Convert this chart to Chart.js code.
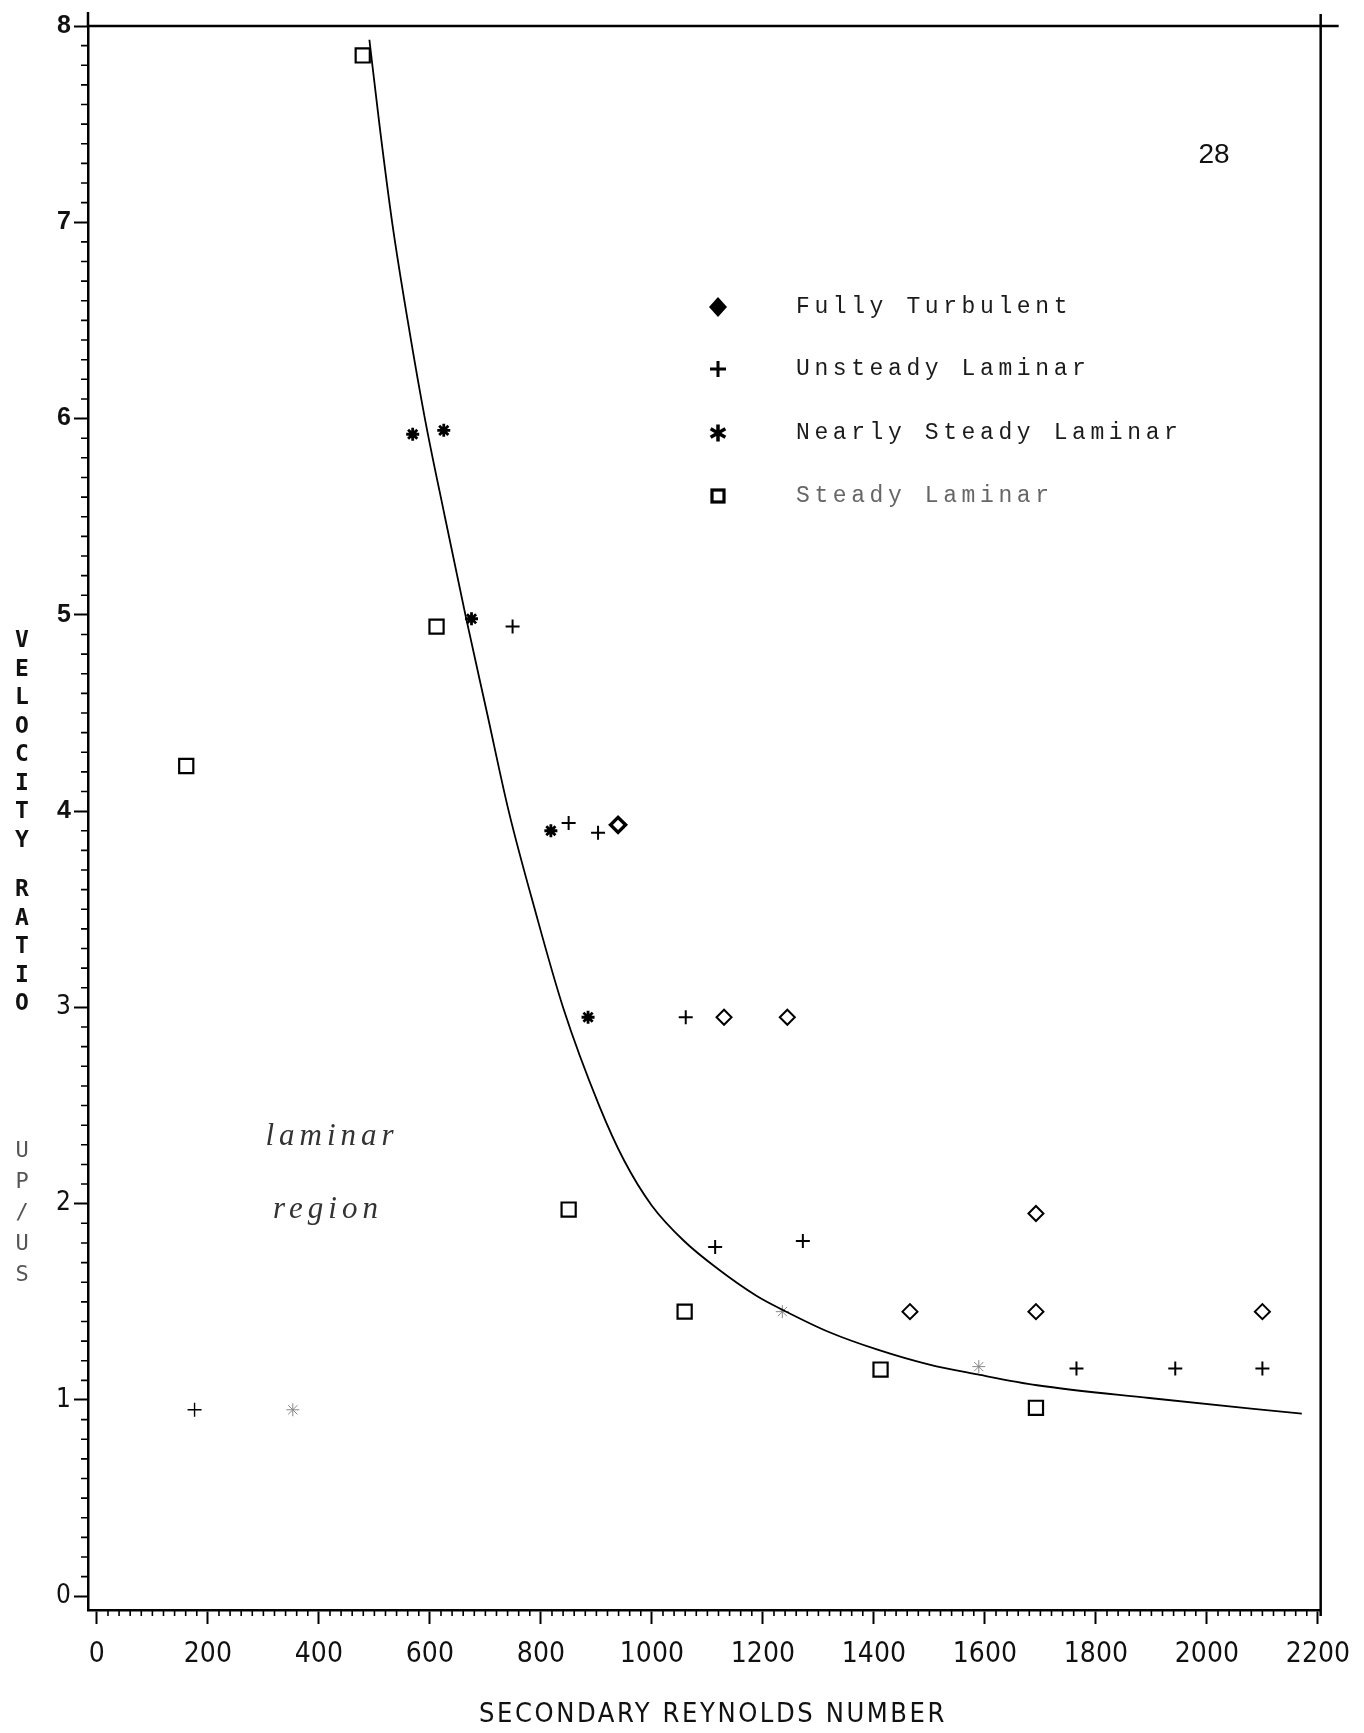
<!DOCTYPE html>
<html>
<head>
<meta charset="utf-8">
<title>Velocity ratio vs secondary Reynolds number</title>
<script src="https://cdn.jsdelivr.net/npm/chart.js@4.4.0/dist/chart.umd.min.js"></script>
<style>
  body { margin:0; background:#fff; }
  #wrap { position:relative; width:1364px; height:1733px; overflow:hidden; }
  #chart { position:absolute; left:0; top:0; }
  .txt { position:absolute; white-space:nowrap; transform:translate(-50%,-50%); color:#111; }
  .leg { position:absolute; white-space:nowrap; transform:translateY(-50%);
         font-family:'Liberation Mono','DejaVu Sans Mono',monospace; font-size:23px;
         letter-spacing:4.6px; color:#1b1b1b; }
  .stack { position:absolute; transform:translateX(-50%); text-align:center;
           font-family:'DejaVu Sans Mono',monospace; font-weight:bold; font-size:23px; line-height:28.5px; color:#111; }
  .italic { font-family:'Liberation Serif','DejaVu Serif',serif; font-style:italic; font-size:31px;
            letter-spacing:5px; color:#333; }
</style>
</head>
<body>
<div id="wrap">
  <canvas id="chart" width="1364" height="1733"></canvas>

  <div class="leg" style="left:796px;top:307px;">Fully Turbulent</div>
  <div class="leg" style="left:796px;top:369px;">Unsteady Laminar</div>
  <div class="leg" style="left:796px;top:433px;">Nearly Steady Laminar</div>
  <div class="leg" style="left:796px;top:496px;color:#666;">Steady Laminar</div>

  <div class="txt" style="left:1214px;top:154px;font:28px 'Liberation Sans',Arial,sans-serif;">28</div>
  <div class="txt italic" style="left:332px;top:1135px;">laminar</div>
  <div class="txt italic" style="left:328px;top:1208px;">region</div>

  <div class="stack" style="left:22px;top:625px;">V<br>E<br>L<br>O<br>C<br>I<br>T<br>Y</div>
  <div class="stack" style="left:22px;top:874px;">R<br>A<br>T<br>I<br>O</div>
  <div class="stack" style="left:22px;top:1134px;font-weight:normal;font-size:22px;line-height:31px;color:#555;">U<br>P<br>/<br>U<br>S</div>

  <div class="txt" style="left:713px;top:1712px;font:27px 'DejaVu Sans Condensed','Liberation Sans Narrow','DejaVu Sans',sans-serif;letter-spacing:2.6px;">SECONDARY REYNOLDS NUMBER</div>
</div>

<script>
// Axis ticks
const xTicks = [0, 200, 400, 600, 800, 1000, 1200, 1400, 1600, 1800, 2000, 2200];
const yTicks = [0, 1, 2, 3, 4, 5, 6, 7, 8];

// Fully Turbulent (diamonds)
const turbX = [939, 1130, 1244, 1692, 1465, 1692, 2100];
const turbY = [3.93, 2.95, 2.95, 1.95, 1.45, 1.45, 1.45];

// Unsteady Laminar (plus)
const unsteadyX = [749, 850, 903, 1061, 1114, 1272, 1765, 1943, 2100, 176];
const unsteadyY = [4.94, 3.94, 3.89, 2.95, 1.78, 1.81, 1.16, 1.16, 1.16, 0.95];

// Nearly Steady Laminar (stars)
const nearlyX = [569, 625, 675, 818, 885, 1235, 1589, 353];
const nearlyY = [5.92, 5.94, 4.98, 3.90, 2.95, 1.45, 1.17, 0.95];

// Steady Laminar (squares)
const steadyX = [479, 612, 161, 850, 1059, 1412, 1692];
const steadyY = [7.85, 4.94, 4.23, 1.97, 1.45, 1.155, 0.96];

// transition curve
const curveX = [491, 509, 532, 560, 591, 627, 664, 703, 742, 789, 840, 905, 950, 1000,
  1058, 1118, 1189, 1235, 1320, 1408, 1500, 1587, 1694, 1896, 2171];
const curveY = [7.93, 7.5, 7.0, 6.5, 6.0, 5.5, 5.0, 4.5, 4.0, 3.5, 3.0, 2.5, 2.22, 1.99,
  1.81, 1.67, 1.53, 1.46, 1.345, 1.255, 1.18, 1.13, 1.075, 1.01, 0.93];

const pts = (xs, ys) => xs.map((x, i) => ({ x: x, y: ys[i] }));

// faint marks in the scan
const faintStars = [5, 6, 7];
const boldDiamond = [0];
const thinPlus = [9];

const condensed = "'DejaVu Sans Condensed','Liberation Sans Narrow','DejaVu Sans',sans-serif";

// minor ticks, frame lines and legend markers
const framePlugin = {
  id: 'frame',
  afterDraw(chart) {
    const ctx = chart.ctx;
    const a = chart.chartArea;
    const xs = chart.scales.x, ys = chart.scales.y;
    ctx.save();
    ctx.strokeStyle = '#000';
    ctx.lineCap = 'butt';

    // top and right lines
    ctx.lineWidth = 2.5;
    ctx.beginPath();
    ctx.moveTo(a.left, a.top); ctx.lineTo(a.right + 18, a.top);
    ctx.moveTo(a.right, a.top - 12); ctx.lineTo(a.right, a.bottom + 6);
    ctx.moveTo(a.left, a.top - 14); ctx.lineTo(a.left, a.top);
    ctx.stroke();

    // minor ticks
    ctx.lineWidth = 1.6;
    ctx.beginPath();
    for (let v = 20; v < 2200; v += 20) {
      if (v % 200 === 0) continue;
      const px = xs.getPixelForValue(v);
      ctx.moveTo(px, a.bottom); ctx.lineTo(px, a.bottom + 6);
    }
    for (let k = 1; k < 80; k++) {
      if (k % 10 === 0) continue;
      const py = ys.getPixelForValue(k / 10);
      ctx.moveTo(a.left - 7, py); ctx.lineTo(a.left, py);
    }
    ctx.stroke();

    // legend markers
    const lx = a.left + 630;
    const rows = [a.top + 281, a.top + 343, a.top + 407, a.top + 470];
    ctx.fillStyle = '#000';
    // filled diamond
    ctx.beginPath();
    ctx.moveTo(lx, rows[0] - 10); ctx.lineTo(lx + 9, rows[0]);
    ctx.lineTo(lx, rows[0] + 10); ctx.lineTo(lx - 9, rows[0]);
    ctx.closePath(); ctx.fill();
    // plus
    ctx.lineWidth = 3;
    ctx.beginPath();
    ctx.moveTo(lx - 8, rows[1]); ctx.lineTo(lx + 8, rows[1]);
    ctx.moveTo(lx, rows[1] - 8); ctx.lineTo(lx, rows[1] + 8);
    ctx.stroke();
    // star
    ctx.lineWidth = 3.5;
    ctx.beginPath();
    for (let k = 0; k < 3; k++) {
      const ang = Math.PI / 2 + k * Math.PI / 3;
      ctx.moveTo(lx - 8.5 * Math.cos(ang), rows[2] - 8.5 * Math.sin(ang));
      ctx.lineTo(lx + 8.5 * Math.cos(ang), rows[2] + 8.5 * Math.sin(ang));
    }
    ctx.stroke();
    // square
    ctx.lineWidth = 3.2;
    ctx.strokeRect(lx - 6, rows[3] - 6, 12, 12);
    ctx.restore();
  }
};

new Chart(document.getElementById('chart'), {
  type: 'scatter',
  data: {
    datasets: [
      {
        label: 'curve',
        data: pts(curveX, curveY),
        showLine: true,
        borderColor: '#000',
        borderWidth: 1.8,
        pointRadius: 0,
        cubicInterpolationMode: 'monotone',
        fill: false
      },
      {
        label: 'Fully Turbulent',
        data: pts(turbX, turbY),
        pointStyle: 'rectRot',
        pointRadius: 7.5,
        pointBackgroundColor: '#fff',
        pointBorderColor: '#000',
        pointBorderWidth: c => boldDiamond.includes(c.dataIndex) ? 3.5 : 2
      },
      {
        label: 'Unsteady Laminar',
        data: pts(unsteadyX, unsteadyY),
        pointStyle: 'cross',
        pointRadius: 7,
        pointBorderColor: '#000',
        pointBorderWidth: c => thinPlus.includes(c.dataIndex) ? 1.4 : 2
      },
      {
        label: 'Nearly Steady Laminar',
        data: pts(nearlyX, nearlyY),
        pointStyle: 'star',
        pointRadius: 6.5,
        pointBorderColor: c => faintStars.includes(c.dataIndex) ? '#888' : '#000',
        pointBorderWidth: c => faintStars.includes(c.dataIndex) ? 1 : 2.8
      },
      {
        label: 'Steady Laminar',
        data: pts(steadyX, steadyY),
        pointStyle: 'rect',
        pointRadius: 10,
        pointBackgroundColor: '#fff',
        pointBorderColor: '#000',
        pointBorderWidth: 2.2
      }
    ]
  },
  options: {
    responsive: false,
    animation: false,
    events: [],
    layout: { padding: { top: 26, right: 24, left: 0, bottom: 0 } },
    plugins: { legend: { display: false }, tooltip: { enabled: false } },
    scales: {
      x: {
        type: 'linear',
        min: -16,
        max: 2205,
        afterBuildTicks: s => { s.ticks = xTicks.map(v => ({ value: v })); },
        afterFit: s => { s.height = 123; },
        grid: { display: true, drawOnChartArea: false, drawTicks: true, tickLength: 14, tickWidth: 2, tickColor: '#000' },
        border: { display: true, color: '#000', width: 2.5 },
        ticks: {
          color: '#111',
          padding: 14,
          maxRotation: 0,
          autoSkip: false,
          callback: v => String(v),
          font: { family: condensed, size: 28 }
        }
      },
      y: {
        type: 'linear',
        min: -0.07,
        max: 8,
        afterBuildTicks: s => { s.ticks = yTicks.map(v => ({ value: v })); },
        afterFit: s => { s.width = 88; },
        grid: { display: true, drawOnChartArea: false, drawTicks: true, tickLength: 14, tickWidth: 2, tickColor: '#000' },
        border: { display: true, color: '#000', width: 2.5 },
        ticks: {
          color: '#111',
          padding: 3,
          autoSkip: false,
          callback: v => String(v),
          font: c => (c.tick && c.tick.value >= 4)
            ? { family: "'Liberation Sans',Arial,sans-serif", size: 25, weight: 'bold' }
            : { family: condensed, size: 26 }
        }
      }
    }
  },
  plugins: [framePlugin]
});
</script>
</body>
</html>
